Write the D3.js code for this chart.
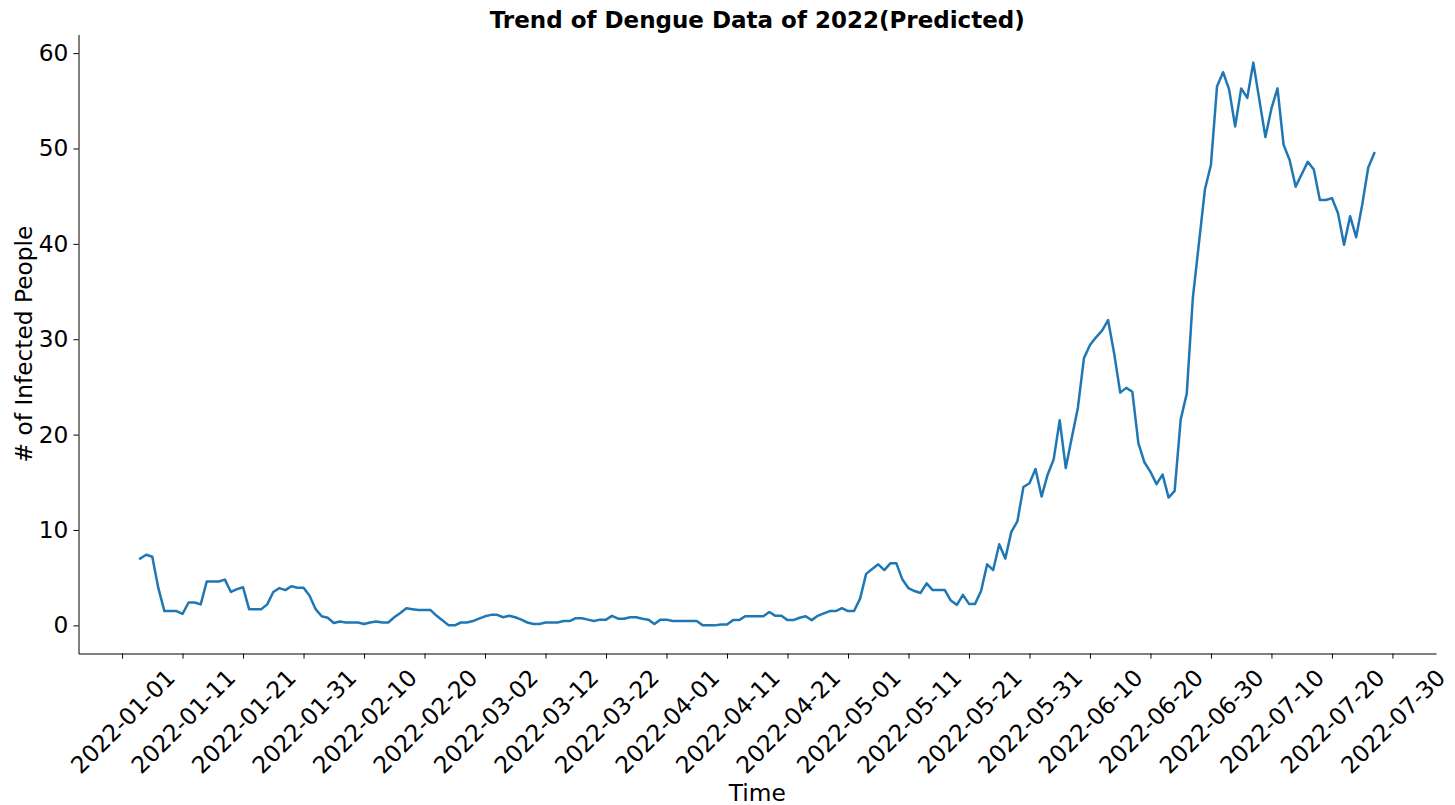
<!DOCTYPE html>
<html>
<head>
<meta charset="utf-8">
<script src="https://cdn.jsdelivr.net/npm/d3@7"></script>
<style>
  html, body { margin: 0; padding: 0; background: #fff; }
  svg { display: block; font-family: "DejaVu Sans", sans-serif; }
</style>
</head>
<body>
<svg id="chart" width="1455" height="805"></svg>
<script>
// Daily predicted dengue cases, starting 2022-01-04
const startDate = "2022-01-04";
const janValues = [7.0, 7.4, 7.2, 3.9, 1.5, 1.5, 1.5, 1.2, 2.4, 2.4, 2.2, 4.6, 4.6, 4.6, 4.8, 3.5, 3.8, 4.0, 1.7, 1.7, 1.7, 2.2, 3.5, 3.9, 3.7, 4.1, 3.95, 3.95];
const febValues = [3.1, 1.7, 0.95, 0.8, 0.25, 0.4, 0.3, 0.3, 0.3, 0.15, 0.3, 0.4, 0.3, 0.3, 0.85, 1.3, 1.8, 1.7, 1.6, 1.6, 1.6, 1.0, 0.5, 0.0, 0.0, 0.3, 0.3, 0.45];
const marValues = [0.7, 0.95, 1.1, 1.1, 0.85, 1.0, 0.85, 0.6, 0.3, 0.15, 0.15, 0.3, 0.3, 0.3, 0.45, 0.45, 0.75, 0.75, 0.6, 0.45, 0.6, 0.6, 1.0, 0.7, 0.7, 0.85, 0.85, 0.7, 0.6, 0.15, 0.6];
const aprValues = [0.6, 0.45, 0.45, 0.45, 0.45, 0.45, 0.0, 0.0, 0.0, 0.1, 0.1, 0.55, 0.55, 0.95, 0.95, 0.95, 0.95, 1.4, 1.0, 1.0, 0.55, 0.55, 0.8, 0.95, 0.55, 1.0, 1.25, 1.5, 1.5, 1.8];
const mayValues = [1.5, 1.5, 2.8, 5.4, 5.9, 6.4, 5.8, 6.5, 6.5, 4.8, 3.9, 3.6, 3.4, 4.4, 3.7, 3.7, 3.7, 2.6, 2.15, 3.2, 2.25, 2.25, 3.6, 6.4, 5.8, 8.5, 7.0, 9.8, 10.9, 14.5, 14.9];
const junValues = [16.4, 13.5, 15.8, 17.4, 21.5, 16.5, 19.7, 22.8, 28.0, 29.4, 30.2, 30.9, 32.0, 28.5, 24.4, 24.9, 24.5, 19.1, 17.1, 16.1, 14.8, 15.8, 13.4, 14.1, 21.6, 24.3, 34.3, 40.0, 45.7, 48.3];
const julValues = [56.5, 58.0, 56.2, 52.3, 56.3, 55.3, 59.0, 55.1, 51.2, 54.2, 56.3, 50.4, 48.8, 46.0, 47.3, 48.6, 47.8, 44.6, 44.6, 44.8, 43.2, 39.9, 42.9, 40.7, 44.1, 48.0, 49.5];

// Tick labels along the time axis
const xTickLabels = ["2022-01-01", "2022-01-11", "2022-01-21", "2022-01-31", "2022-02-10", "2022-02-20",
  "2022-03-02", "2022-03-12", "2022-03-22", "2022-04-01", "2022-04-11", "2022-04-21", "2022-05-01",
  "2022-05-11", "2022-05-21", "2022-05-31", "2022-06-10", "2022-06-20", "2022-06-30", "2022-07-10",
  "2022-07-20", "2022-07-30"];
const yTickValues = [0, 10, 20, 30, 40, 50, 60];

const titleText = "Trend of Dengue Data of 2022(Predicted)";
const xLabelText = "Time";
const yLabelText = "# of Infected People";

const parse = d3.timeParse("%Y-%m-%d");
const values = [].concat(janValues, febValues, marValues, aprValues, mayValues, junValues, julValues);
const start = parse(startDate);
const data = values.map((v, i) => ({ date: d3.timeDay.offset(start, i), value: v }));

const svg = d3.select("#chart");
const plot = { left: 78.5, right: 1436, top: 34.5, bottom: 653.5 };
const fontSize = 23.3;
const tickLen = 5.1, tickPad = 5.1;

// Axis ranges padded by 5% of the data span on each side
const [dMin, dMax] = d3.extent(data, d => d.date);
const dSpan = dMax - dMin;
const x = d3.scaleTime()
  .domain([new Date(+dMin - 0.05 * dSpan), new Date(+dMax + 0.05 * dSpan)])
  .range([plot.left, plot.right]);
const [vMin, vMax] = d3.extent(data, d => d.value);
const vSpan = vMax - vMin;
const y = d3.scaleLinear()
  .domain([vMin - 0.05 * vSpan, vMax + 0.05 * vSpan])
  .range([plot.bottom, plot.top]);

// Line
svg.append("path")
  .datum(data)
  .attr("fill", "none")
  .attr("stroke", "#1f77b4")
  .attr("stroke-width", 2.5)
  .attr("stroke-linejoin", "round")
  .attr("stroke-linecap", "square")
  .attr("d", d3.line().x(d => x(d.date)).y(d => y(d.value)));

// Bottom axis
const xTicks = xTickLabels.map(parse);
const xAxis = d3.axisBottom(x)
  .tickValues(xTicks)
  .tickFormat(d3.timeFormat("%Y-%m-%d"))
  .tickSizeInner(tickLen)
  .tickSizeOuter(0)
  .tickPadding(tickPad);
const gx = svg.append("g")
  .attr("transform", `translate(0,${plot.bottom})`)
  .call(xAxis);
gx.select(".domain").attr("stroke", "#000").attr("stroke-width", 1);
gx.selectAll(".tick line").attr("stroke", "#000").attr("stroke-width", 1);
gx.selectAll(".tick text")
  .attr("fill", "#000")
  .style("font-size", fontSize + "px")
  .style("font-family", "DejaVu Sans")
  .each(function () {
    // rotate 45° about the label centre, then place the rotated box just below the ticks
    const t = d3.select(this);
    t.attr("y", null).attr("dy", null).attr("text-anchor", "middle").attr("dominant-baseline", "central");
    const w = this.getComputedTextLength();
    const h = fontSize * 1.16;
    const half = (w + h) * Math.SQRT1_2 / 2;
    t.attr("transform", `translate(0,${tickLen + tickPad + half}) rotate(-45)`);
  });

// Left axis
const yAxis = d3.axisLeft(y)
  .tickValues(yTickValues)
  .tickFormat(d3.format("d"))
  .tickSizeInner(tickLen)
  .tickSizeOuter(0)
  .tickPadding(tickPad);
const gy = svg.append("g")
  .attr("transform", `translate(${plot.left},0)`)
  .call(yAxis);
gy.select(".domain").attr("stroke", "#000").attr("stroke-width", 1);
gy.selectAll(".tick line").attr("stroke", "#000").attr("stroke-width", 1);
gy.selectAll(".tick text")
  .attr("fill", "#000")
  .style("font-size", fontSize + "px")
  .style("font-family", "DejaVu Sans");

// Title and axis labels
const cx = (plot.left + plot.right) / 2;
svg.append("text")
  .attr("x", cx).attr("y", 28)
  .attr("text-anchor", "middle")
  .style("font-size", "23px")
  .style("font-weight", "bold")
  .text(titleText);
svg.append("text")
  .attr("x", cx).attr("y", 801)
  .attr("text-anchor", "middle")
  .style("font-size", fontSize + "px")
  .text(xLabelText);
svg.append("text")
  .attr("transform", `translate(32,${(plot.top + plot.bottom) / 2}) rotate(-90)`)
  .attr("text-anchor", "middle")
  .style("font-size", fontSize + "px")
  .text(yLabelText);
</script>
</body>
</html>
